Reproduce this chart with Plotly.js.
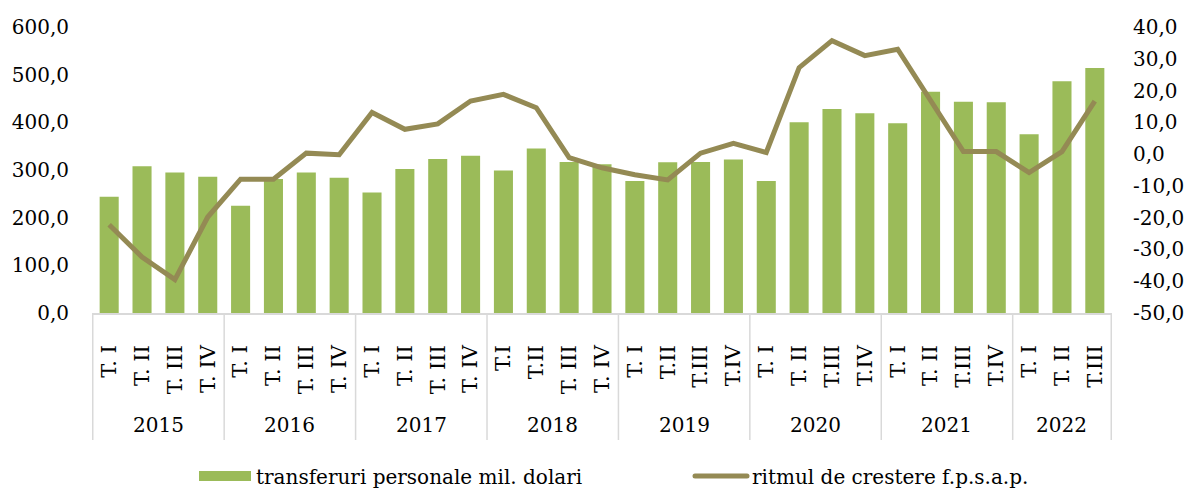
<!DOCTYPE html>
<html>
<head>
<meta charset="utf-8">
<script src="https://cdn.plot.ly/plotly-3.0.1.min.js"></script>
<style>
  html, body { margin: 0; padding: 0; background: #fff; }
  #chart { width: 1188px; height: 488px; }
</style>
</head>
<body>
<div id="chart"></div>
<script>
const years = ["2015","2015","2015","2015","2016","2016","2016","2016","2017","2017","2017","2017","2018","2018","2018","2018","2019","2019","2019","2019","2020","2020","2020","2020","2021","2021","2021","2021","2022","2022","2022"];
const quarters = ["T. I","T. II","T. III","T. IV","T. I","T. II","T. III","T. IV","T. I","T. II","T. III","T. IV","T.I","T.II","T. III","T. IV","T. I","T.II","T.III","T.IV","T. I","T. II","T.III","T.IV","T. I","T. II","T.III","T.IV","T. I","T. II","T.III"];
const transfers = [244, 308, 295, 286, 225, 281, 295, 284, 253, 302, 323, 330, 299, 345, 317, 312, 277, 316, 317, 322, 277, 400, 428, 419, 398, 464, 443, 442, 375, 486, 514];
const growth = [-22.2, -32.4, -39.5, -19.8, -7.9, -7.9, 0.3, -0.2, 13.1, 7.8, 9.5, 16.7, 18.8, 14.6, -1.1, -4.3, -6.5, -8.1, 0.3, 3.4, 0.5, 27.2, 35.7, 31.0, 33.0, 17.0, 0.8, 0.8, -5.8, 0.8, 16.7];
const leftTicks = [0, 100, 200, 300, 400, 500, 600];
const rightTicks = [-50, -40, -30, -20, -10, 0, 10, 20, 30, 40];
const barName = 'transferuri personale mil. dolari';
const lineName = 'ritmul de crestere f.p.s.a.p.';

const fmt = v => v.toFixed(1).replace('.', ',');
const FONT = "DejaVu Serif, Liberation Serif, serif";
const BAR_COLOR = '#9BBB59';
const LINE_COLOR = '#948A54';
const DIV_COLOR = '#D9D9D9';

// unique category keys (year + quarter); quarters shown as tick text
const cats = years.map((y, i) => y + ' ' + quarters[i]);

// year groups: first/last index of each year
const groups = [];
years.forEach((y, i) => {
  const g = groups[groups.length - 1];
  if (g && g.year === y) g.last = i; else groups.push({ year: y, first: i, last: i });
});

const traces = [
  {
    type: 'bar',
    name: barName,
    x: cats,
    y: transfers,
    marker: { color: BAR_COLOR },
    yaxis: 'y',
    showlegend: false,
    legendgroup: 'bars'
  },
  {
    // legend key only: wide flat rectangle as in the reference legend
    type: 'scatter',
    mode: 'lines',
    name: barName,
    x: [cats[0]],
    y: [null],
    line: { color: BAR_COLOR, width: 13 },
    legendgroup: 'bars',
    hoverinfo: 'skip'
  },
  {
    type: 'scatter',
    mode: 'lines',
    name: lineName,
    x: cats,
    y: growth,
    line: { color: LINE_COLOR, width: 5 },
    yaxis: 'y2'
  }
];

const DIV_BOTTOM = -0.444;
const shapes = [];
groups.forEach((g, k) => {
  shapes.push({ type: 'line', xref: 'x', yref: 'paper', x0: g.first - 0.5, x1: g.first - 0.5, y0: 0, y1: DIV_BOTTOM,
                line: { color: DIV_COLOR, width: 1.5 } });
  if (k === groups.length - 1) {
    shapes.push({ type: 'line', xref: 'x', yref: 'paper', x0: g.last + 0.5, x1: g.last + 0.5, y0: 0, y1: DIV_BOTTOM,
                  line: { color: DIV_COLOR, width: 1.5 } });
  }
});

const annotations = groups.map(g => ({
  xref: 'x', yref: 'paper',
  x: (g.first + g.last) / 2, y: -0.392,
  xanchor: 'center', yanchor: 'middle',
  text: g.year, showarrow: false,
  font: { family: FONT, size: 20, color: '#000' }
}));

const layout = {
  width: 1188,
  height: 488,
  margin: { l: 92, r: 76, t: 27, b: 175 },
  paper_bgcolor: '#fff',
  plot_bgcolor: '#fff',
  font: { family: FONT, size: 20, color: '#000' },
  bargap: 0.42,
  showlegend: true,
  legend: {
    orientation: 'h',
    xref: 'container', yref: 'container',
    x: 0.1633, xanchor: 'left',
    y: 0.0246, yanchor: 'middle',
    font: { family: FONT, size: 20, color: '#000' },
    entrywidth: 429,
    itemwidth: 52,
    traceorder: 'normal'
  },
  xaxis: {
    type: 'category',
    categoryorder: 'array',
    categoryarray: cats,
    tickmode: 'array',
    tickvals: cats,
    ticktext: quarters,
    tickangle: -90,
    showline: true,
    linecolor: DIV_COLOR,
    linewidth: 1.5,
    ticks: '',
    ticklabelstandoff: 22,
    tickfont: { family: FONT, size: 21, color: '#000' },
    showgrid: false,
    zeroline: false,
    automargin: false
  },
  yaxis: {
    range: [0, 600],
    tickvals: leftTicks,
    ticktext: leftTicks.map(fmt),
    showgrid: false,
    zeroline: false,
    showline: false,
    ticks: '',
    ticklabelstandoff: 22,
    tickfont: { family: FONT, size: 20, color: '#000' },
    automargin: false
  },
  yaxis2: {
    overlaying: 'y',
    side: 'right',
    range: [-50, 40],
    tickvals: rightTicks,
    ticktext: rightTicks.map(fmt),
    showgrid: false,
    zeroline: false,
    showline: false,
    ticks: '',
    ticklabelstandoff: 20,
    tickfont: { family: FONT, size: 20, color: '#000' },
    automargin: false
  },
  shapes: shapes,
  annotations: annotations
};

Plotly.newPlot('chart', traces, layout, { displayModeBar: false, responsive: false }).then(gd => {
  // widen the legend keys to the reference's ~52px
  gd.querySelectorAll('.legend .legendlines path').forEach((p, i) => {
    p.setAttribute('d', 'M5,0h52');
    if (i === 1) p.style.strokeLinecap = 'round';
  });
});
</script>
</body>
</html>
